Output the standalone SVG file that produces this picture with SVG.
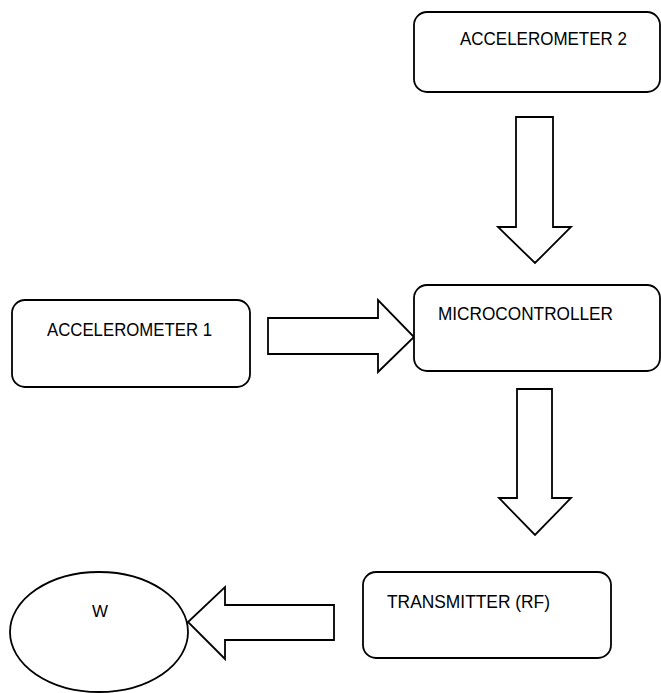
<svg xmlns="http://www.w3.org/2000/svg" width="661" height="693" viewBox="0 0 661 693">
<style>
.box{fill:#ffffff;stroke:#000000;stroke-width:1.8}
.arrow{fill:#ffffff;stroke:#000000;stroke-width:1.8;stroke-linejoin:miter}
.lbl{font-family:"Liberation Sans",Arial,sans-serif;font-size:18px;fill:#000000}
</style>
<rect width="661" height="693" fill="#ffffff"/>
<g id="connectors">
<polygon class="arrow" points="516,117 553,117 553,227 571,227 535,263 498,227 516,227"/>
<polygon class="arrow" points="268,318 378,318 378,300 414,337 378,372 378,354 268,354"/>
<polygon class="arrow" points="517,389 552,389 552,498 571,498 535,535 499,498 517,498"/>
<polygon class="arrow" points="334,605 225,605 225,587 188,622 225,659 225,640 334,640"/>
</g>
<g id="accelerometer2">
<rect class="box" x="414" y="12" width="246" height="80" rx="13" ry="13"/>
<text class="lbl" x="460" y="45" textLength="167" lengthAdjust="spacingAndGlyphs">ACCELEROMETER 2</text>
</g>
<g id="accelerometer1">
<rect class="box" x="12" y="300" width="238" height="87" rx="13" ry="13"/>
<text class="lbl" x="47" y="336" textLength="165" lengthAdjust="spacingAndGlyphs">ACCELEROMETER 1</text>
</g>
<g id="microcontroller">
<rect class="box" x="414" y="285" width="246" height="86" rx="13" ry="13"/>
<text class="lbl" x="438" y="320" textLength="175" lengthAdjust="spacingAndGlyphs">MICROCONTROLLER</text>
</g>
<g id="transmitter">
<rect class="box" x="363" y="572" width="248" height="86" rx="13" ry="13"/>
<text class="lbl" x="387" y="608" textLength="163" lengthAdjust="spacingAndGlyphs">TRANSMITTER (RF)</text>
</g>
<g id="w">
<ellipse class="box" cx="99" cy="632" rx="89" ry="60"/>
<text class="lbl" x="92" y="617" font-size="16" textLength="16" lengthAdjust="spacingAndGlyphs" style="font-size:16px">W</text>
</g>
</svg>
